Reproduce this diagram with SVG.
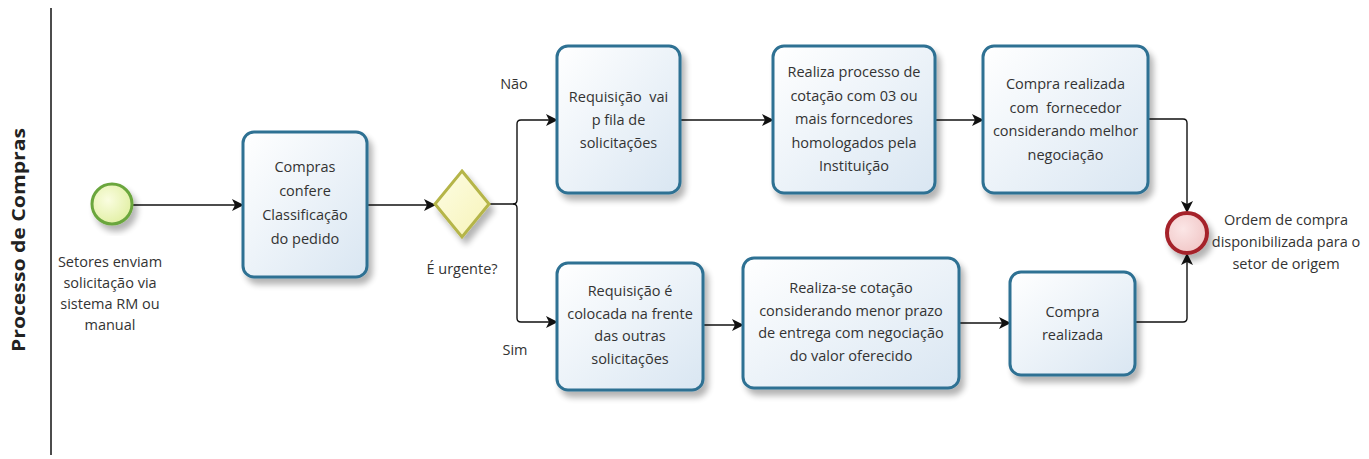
<svg xmlns="http://www.w3.org/2000/svg" width="1369" height="459" viewBox="0 0 1369 459">
<style>
.t{font-family:"Open Sans","Liberation Sans",sans-serif;font-size:14.5px;fill:#333;text-anchor:middle}
.task{fill:url(#gTask);stroke:#2f7193;stroke-width:3}
.conn{fill:none;stroke:#111;stroke-width:1.4}
</style>
<defs>
<linearGradient id="gTask" x1="0" y1="0" x2="1" y2="1">
<stop offset="0" stop-color="#ffffff"/>
<stop offset="1" stop-color="#d9e6f2"/>
</linearGradient>
<radialGradient id="gStart" cx="0.4" cy="0.4" r="0.7">
<stop offset="0" stop-color="#fafde0"/>
<stop offset="1" stop-color="#dfee9e"/>
</radialGradient>
<radialGradient id="gEnd" cx="0.4" cy="0.4" r="0.7">
<stop offset="0" stop-color="#fbe6e6"/>
<stop offset="1" stop-color="#f0c4c4"/>
</radialGradient>
<linearGradient id="gGate" x1="0" y1="0" x2="1" y2="1">
<stop offset="0" stop-color="#fdfde4"/>
<stop offset="1" stop-color="#f7f3b8"/>
</linearGradient>
<filter id="sh" x="-20%" y="-20%" width="150%" height="150%">
<feGaussianBlur in="SourceAlpha" stdDeviation="3"/>
<feOffset dx="4" dy="6" result="o"/>
<feComponentTransfer><feFuncA type="linear" slope="0.3"/></feComponentTransfer>
<feMerge><feMergeNode/><feMergeNode in="SourceGraphic"/></feMerge>
</filter>
<marker id="arr" viewBox="0 0 12 12" refX="11" refY="6" markerWidth="12" markerHeight="12" markerUnits="userSpaceOnUse" orient="auto">
<path d="M0,0 L12,6 L0,12 L3,6 z" fill="#111"/>
</marker>
</defs>

<g id="lane">
<line x1="51" y1="8" x2="51" y2="455" stroke="#111" stroke-width="1.5"/>
<text transform="translate(25,240) rotate(-90)" text-anchor="middle" font-family="'Open Sans','Liberation Sans',sans-serif" font-weight="bold" font-size="17" fill="#222" textLength="224" lengthAdjust="spacingAndGlyphs">Processo de Compras</text>
</g>

<g id="connectors">
<path class="conn" d="M132,205 H243" marker-end="url(#arr)"/>
<path class="conn" d="M367,205 H435" marker-end="url(#arr)"/>
<path class="conn" d="M489,204 H513 Q517,204 517,200 V124 Q517,120 521,120 H557" marker-end="url(#arr)"/>
<path class="conn" d="M513,204 Q517,204 517,208 V318 Q517,322 521,322 H557" marker-end="url(#arr)"/>
<path class="conn" d="M680,120 H773" marker-end="url(#arr)"/>
<path class="conn" d="M935,120 H983" marker-end="url(#arr)"/>
<path class="conn" d="M1148,119 H1183 Q1187,119 1187,123 V212" marker-end="url(#arr)"/>
<path class="conn" d="M703,325 H743" marker-end="url(#arr)"/>
<path class="conn" d="M959,323 H1010" marker-end="url(#arr)"/>
<path class="conn" d="M1135,322 H1183 Q1187,322 1187,318 V254" marker-end="url(#arr)"/>
</g>

<g id="start">
<circle cx="112" cy="204" r="20" fill="url(#gStart)" stroke="#6aa63c" stroke-width="3" filter="url(#sh)"/>
<text class="t"><tspan x="110" y="267">Setores enviam</tspan><tspan x="110" y="288">solicitação via</tspan><tspan x="110" y="309">sistema RM ou</tspan><tspan x="110" y="330">manual</tspan></text>
</g>

<g id="task1">
<rect class="task" x="243" y="132" width="124" height="145" rx="11" filter="url(#sh)"/>
<text class="t"><tspan x="305" y="172">Compras</tspan><tspan x="305" y="196">confere</tspan><tspan x="305" y="220">Classificação</tspan><tspan x="305" y="244">do pedido</tspan></text>
</g>

<g id="gateway">
<polygon points="462,171 489,204 462,237 435,204" fill="url(#gGate)" stroke="#b5b548" stroke-width="3" filter="url(#sh)"/>
<text class="t" x="462" y="274">É urgente?</text>
<text class="t" x="514" y="89">Não</text>
<text class="t" x="515" y="355">Sim</text>
</g>

<g id="task2">
<rect class="task" x="557" y="46" width="123" height="147" rx="11" filter="url(#sh)"/>
<text class="t"><tspan x="618.5" y="102" xml:space="preserve">Requisição  vai</tspan><tspan x="618.5" y="125">p fila de</tspan><tspan x="618.5" y="148">solicitações</tspan></text>
</g>

<g id="task3">
<rect class="task" x="773" y="46" width="162" height="147" rx="11" filter="url(#sh)"/>
<text class="t"><tspan x="854" y="77">Realiza processo de</tspan><tspan x="854" y="100.5">cotação com 03 ou</tspan><tspan x="854" y="124">mais forncedores</tspan><tspan x="854" y="147.5">homologados pela</tspan><tspan x="854" y="171">Instituição</tspan></text>
</g>

<g id="task4">
<rect class="task" x="983" y="46" width="165" height="147" rx="11" filter="url(#sh)"/>
<text class="t"><tspan x="1065.5" y="89">Compra realizada</tspan><tspan x="1065.5" y="112.5" xml:space="preserve">com  fornecedor</tspan><tspan x="1065.5" y="136">considerando melhor</tspan><tspan x="1065.5" y="159.5">negociação</tspan></text>
</g>

<g id="end">
<circle cx="1187" cy="233" r="20" fill="url(#gEnd)" stroke="#a5232b" stroke-width="4" filter="url(#sh)"/>
<text class="t"><tspan x="1286" y="225">Ordem de compra</tspan><tspan x="1286" y="247">disponibilizada para o</tspan><tspan x="1286" y="269">setor de origem</tspan></text>
</g>

<g id="task5">
<rect class="task" x="557" y="263" width="146" height="127" rx="11" filter="url(#sh)"/>
<text class="t"><tspan x="630" y="296">Requisição é</tspan><tspan x="630" y="318.5">colocada na frente</tspan><tspan x="630" y="341">das outras</tspan><tspan x="630" y="363.5">solicitações</tspan></text>
</g>

<g id="task6">
<rect class="task" x="743" y="258" width="216" height="130" rx="11" filter="url(#sh)"/>
<text class="t"><tspan x="851" y="293">Realiza-se cotação</tspan><tspan x="851" y="315.5">considerando menor prazo</tspan><tspan x="851" y="338">de entrega com negociação</tspan><tspan x="851" y="360.5">do valor oferecido</tspan></text>
</g>

<g id="task7">
<rect class="task" x="1010" y="272" width="125" height="103" rx="11" filter="url(#sh)"/>
<text class="t"><tspan x="1072.5" y="317">Compra</tspan><tspan x="1072.5" y="340">realizada</tspan></text>
</g>
</svg>
